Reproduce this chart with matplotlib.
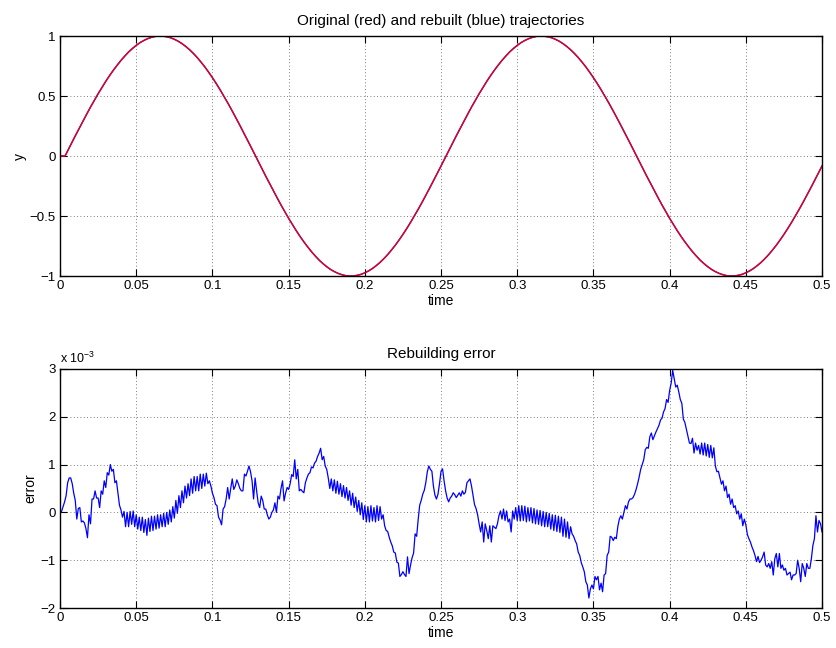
import numpy as np
import matplotlib.pyplot as plt

plt.rcParams['font.family'] = ['Liberation Sans', 'DejaVu Sans']
plt.rcParams['mathtext.fontset'] = 'custom'
plt.rcParams['mathtext.rm'] = 'Liberation Sans'

# trajectory (original and rebuilt overlap): flat start, then samples every 2.5 ms from 5 ms
traj_t = [0.0, 0.0033] + [round(0.005 + 0.0025 * k, 4) for k in range(199)]
half_up = [0.043, 0.105, 0.168, 0.229, 0.290, 0.349, 0.408, 0.464, 0.519, 0.571,
           0.622, 0.670, 0.715, 0.757, 0.797, 0.833, 0.867, 0.896, 0.922, 0.945,
           0.963, 0.978, 0.989, 0.997, 1.000, 0.999, 0.994, 0.986, 0.973, 0.957,
           0.937, 0.913, 0.886, 0.855, 0.821, 0.783, 0.743, 0.699, 0.653, 0.604,
           0.553, 0.499, 0.444, 0.387, 0.328, 0.268, 0.207, 0.145, 0.083, 0.020]
half_down = [-0.043, -0.105, -0.168, -0.229, -0.290, -0.349, -0.408, -0.464, -0.519, -0.571,
             -0.622, -0.670, -0.715, -0.757, -0.797, -0.833, -0.867, -0.896, -0.922, -0.945,
             -0.963, -0.978, -0.989, -0.997, -1.000, -0.999, -0.994, -0.986, -0.973, -0.957,
             -0.937, -0.913, -0.886, -0.855, -0.821, -0.783, -0.743, -0.699, -0.653, -0.604,
             -0.553, -0.499, -0.444, -0.387, -0.328, -0.268, -0.207, -0.145, -0.083, -0.020]
traj_y = [0.0, 0.0] + half_up + half_down + half_up + half_down[:-1]

# rebuilding error (units of 1e-3), one sample per ms from 0 to 0.5 s
err_t = np.linspace(0, 0.5, 501)
err_e3 = [
    0, 0.02, 0.12, 0.22, 0.35, 0.62, 0.72, 0.72, 0.6, 0.4,
    0.25, -0.14, 0.08, 0.1, -0.2, -0.18, -0.22, -0.34, -0.53, -0.05,
    -0.24, 0.28, 0.28, 0.45, 0.3, 0.3, 0.1, 0.45, 0.38, 0.66,
    0.52, 0.83, 0.78, 1.0, 0.86, 0.9, 0.62, 0.66, 0.41, 0.15,
    0.05, -0.1, 0.02, -0.3, 0.0, -0.3, 0.02, -0.25, 0.03, -0.3,
    -0.05, -0.35, -0.1, -0.38, -0.1, -0.42, -0.15, -0.48, -0.12, -0.4,
    -0.08, -0.38, -0.08, -0.35, -0.05, -0.33, -0.05, -0.3, -0.02, -0.3,
    0.0, -0.25, 0.05, -0.2, 0.12, -0.12, 0.25, -0.02, 0.35, 0.1,
    0.45, 0.2, 0.55, 0.3, 0.6, 0.35, 0.7, 0.4, 0.75, 0.45,
    0.75, 0.45, 0.8, 0.5, 0.8, 0.55, 0.82, 0.6, 0.66, 0.55,
    0.4, 0.31, 0.17, 0.14, -0.1, -0.16, -0.26, 0.07, 0.12, 0.28,
    0.52, 0.28, 0.5, 0.7, 0.48, 0.55, 0.68, 0.6, 0.5, 0.45,
    0.45, 0.8, 0.76, 0.86, 0.97, 0.85, 0.66, 0.28, 0.72, 0.45,
    0.2, 0.1, 0.34, 0.25, 0.07, 0.07, -0.05, -0.14, -0.1, 0.0,
    0.05, 0.2, 0.0, 0.34, 0.28, 0.5, 0.66, 0.24, 0.4, 0.52,
    0.48, 0.6, 0.79, 0.75, 1.1, 0.7, 0.9, 0.45, 0.48, 0.44,
    0.41, 0.62, 0.72, 0.8, 0.83, 0.95, 0.93, 1.03, 1.07, 1.17,
    1.24, 1.34, 1.1, 1.17, 0.97, 0.9, 0.72, 0.5, 0.7, 0.45,
    0.68, 0.4, 0.65, 0.38, 0.6, 0.33, 0.56, 0.3, 0.52, 0.25,
    0.45, 0.15, 0.4, 0.1, 0.32, 0.02, 0.25, -0.05, 0.2, -0.15,
    0.14, -0.2, 0.12, -0.2, 0.14, -0.18, 0.1, -0.2, 0.14, -0.17,
    0.12, -0.14, -0.05, -0.28, -0.38, -0.4, -0.52, -0.62, -0.7, -0.83,
    -0.85, -1.04, -1.06, -1.34, -1.3, -1.24, -1.3, -1.34, -0.93, -1.28,
    -1.1, -0.95, -0.85, -0.45, -0.5, -0.15, 0.15, 0.25, 0.38, 0.46,
    0.62, 0.85, 0.97, 0.9, 0.86, 0.55, 0.36, 0.28, 0.38, 0.6,
    0.86, 0.91, 0.66, 0.45, 0.3, 0.22, 0.3, 0.34, 0.41, 0.37,
    0.31, 0.36, 0.41, 0.34, 0.45, 0.38, 0.42, 0.62, 0.66, 0.7,
    0.55, 0.36, 0.16, 0.08, -0.05, -0.24, -0.41, -0.2, -0.62, -0.24,
    -0.38, -0.55, -0.28, -0.62, -0.28, -0.31, -0.34, -0.24, -0.07, 0.03,
    -0.14, 0.07, -0.17, 0.03, -0.2, -0.14, -0.41, 0.03, -0.14, 0.1,
    -0.17, 0.14, -0.18, 0.14, -0.17, 0.13, -0.2, 0.1, -0.18, 0.1,
    -0.22, 0.08, -0.24, 0.05, -0.25, 0.04, -0.28, 0.02, -0.3, 0.0,
    -0.3, -0.02, -0.35, -0.05, -0.38, -0.06, -0.4, -0.08, -0.42, -0.1,
    -0.5, -0.14, -0.52, -0.2, -0.55, -0.3, -0.45, -0.5, -0.59, -0.66,
    -0.83, -0.9, -1.05, -1.14, -1.24, -1.45, -1.52, -1.79, -1.6, -1.52,
    -1.6, -1.34, -1.41, -1.34, -1.62, -1.48, -1.66, -1.31, -1.28, -0.9,
    -0.83, -0.5, -0.52, -0.59, -0.52, -0.55, -0.3, -0.14, -0.07, -0.14,
    0.0, 0.14, 0.07, 0.22, 0.28, 0.28, 0.31, 0.38, 0.48, 0.6,
    0.74, 0.9, 1.0, 1.1, 1.31, 1.36, 1.34, 1.58, 1.66, 1.52,
    1.6, 1.68, 1.75, 1.82, 1.93, 1.97, 2.1, 2.17, 2.36, 2.3,
    2.55, 2.7, 2.97, 2.8, 2.62, 2.66, 2.52, 2.36, 2.28, 1.95,
    1.88, 1.74, 1.6, 1.45, 1.44, 1.55, 1.24, 1.45, 1.3, 1.4,
    1.22, 1.45, 1.2, 1.45, 1.18, 1.42, 1.15, 1.4, 1.14, 1.35,
    0.97, 0.85, 0.86, 0.72, 0.59, 0.66, 0.45, 0.55, 0.31, 0.38,
    0.17, 0.28, 0.1, 0.14, -0.03, 0.03, -0.14, -0.03, -0.28, -0.14,
    -0.26, -0.46, -0.55, -0.62, -0.72, -0.8, -0.9, -1.03, -0.92, -1.05,
    -1.0, -0.93, -0.83, -1.1, -1.14, -1.07, -1.17, -1.03, -1.31, -0.97,
    -0.86, -1.14, -0.86, -1.17, -1.1, -1.21, -1.17, -1.31, -1.28, -1.25,
    -1.41, -1.31, -1.31, -1.28, -1.0, -1.17, -1.45, -1.07, -1.17, -1.34,
    -1.07, -1.17, -1.17, -0.97, -0.69, -0.55, -0.07, -0.41, -0.17, -0.24,
    -0.41,
]

x_ticks = [0, 0.05, 0.1, 0.15, 0.2, 0.25, 0.3, 0.35, 0.4, 0.45, 0.5]
x_labels = ['0', '0.05', '0.1', '0.15', '0.2', '0.25', '0.3', '0.35', '0.4', '0.45', '0.5']


def style_axes(ax):
    ax.set_xlim(0, 0.5)
    ax.set_xticks(x_ticks)
    ax.set_xticklabels(x_labels)
    ax.tick_params(direction='in', top=True, right=True, length=5, width=0.8,
                   labelsize=9.5, pad=3)
    ax.grid(True, linestyle=(0, (1, 3)), color='#555555', linewidth=0.6)
    for s in ax.spines.values():
        s.set_linewidth(1.0)


fig = plt.figure(figsize=(8.36, 6.48), dpi=100)

ax1 = fig.add_axes([0.0718, 0.574, 0.9115, 0.3704])
ax1.plot(traj_t, traj_y, color='blue', linewidth=1.0)
ax1.plot(traj_t, traj_y, color='red', linewidth=1.0, alpha=0.9)
style_axes(ax1)
ax1.set_ylim(-1, 1)
ax1.set_yticks([-1, -0.5, 0, 0.5, 1])
ax1.set_yticklabels(['\u22121', '\u22120.5', '0', '0.5', '1'])
ax1.set_title('Original (red) and rebuilt (blue) trajectories', fontsize=11, pad=8)
ax1.set_xlabel('time', fontsize=10, labelpad=1)
ax1.set_ylabel('y', fontsize=10, labelpad=2)

ax2 = fig.add_axes([0.0718, 0.0617, 0.9115, 0.3690])
ax2.plot(err_t, err_e3, color='blue', linewidth=0.9)
style_axes(ax2)
ax2.set_ylim(-2, 3)
ax2.set_yticks([-2, -1, 0, 1, 2, 3])
ax2.set_yticklabels(['\u22122', '\u22121', '0', '1', '2', '3'])
ax2.set_title('Rebuilding error', fontsize=11, pad=8)
ax2.set_xlabel('time', fontsize=10, labelpad=1)
ax2.set_ylabel('error', fontsize=10, labelpad=2)
ax2.text(0.0, 1.012, r'x 10$^{\mathregular{-3}}$', transform=ax2.transAxes,
         fontsize=9, ha='left', va='bottom')

fig.savefig('out.png', dpi=100)
